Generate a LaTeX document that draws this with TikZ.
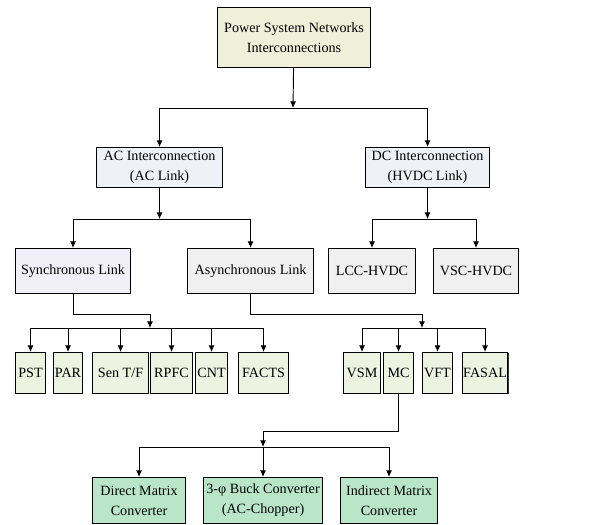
\documentclass[tikz,border=0pt]{standalone}
\usepackage{fontspec}
\setmainfont{Liberation Serif}
\usepackage{tikz}
\usetikzlibrary{shapes, arrows.meta, positioning, calc, shadows}

\definecolor{topfill}{HTML}{EEF0DA}
\definecolor{linkfill}{HTML}{EEF1F6}
\definecolor{synfill}{HTML}{F1EFF7}
\definecolor{grayfill}{HTML}{F0F0F0}
\definecolor{devfill}{HTML}{EEF2E0}
\definecolor{convfill}{HTML}{B9E6C9}

\newdimen\unitpx
\unitpx=0.75pt

\tikzset{
	blk/.style={draw, line width=0.8pt, anchor=north west, align=center, inner xsep=0.5pt, inner ysep=1pt,
		drop shadow={shadow xshift=0.7pt, shadow yshift=-0.7pt, fill=black!80, opacity=1},
		font=\fontsize{10.6}{15}\selectfont},
	wire/.style={->, line width=0.7pt}
}

\begin{document}
\begin{tikzpicture}[x=0.75pt, y=-0.75pt, >={Latex[length=5pt, width=4.5pt]}]
		\useasboundingbox (0,0) rectangle (615,525);

		\coordinate (psn)   at (217, 7);
		\coordinate (aci)   at (96, 147);
		\coordinate (dci)   at (365, 147);
		\coordinate (syn)   at (15, 248);
		\coordinate (asy)   at (187, 248);
		\coordinate (lcc)   at (328, 248);
		\coordinate (vsc)   at (433, 248);

		\node[blk, fill=topfill, minimum width=153\unitpx, minimum height=60\unitpx] (PSN) at (psn) {Power System Networks\\Interconnections};
		\node[blk, fill=linkfill, minimum width=126\unitpx, minimum height=40\unitpx] (ACI) at (aci) {AC Interconnection\\(AC Link)};
		\node[blk, fill=linkfill, minimum width=124\unitpx, minimum height=40\unitpx] (DCI) at (dci) {DC Interconnection\\(HVDC Link)};
		\node[blk, fill=synfill, minimum width=115\unitpx, minimum height=45\unitpx] (SYN) at (syn) {Synchronous Link};
		\node[blk, fill=grayfill, minimum width=126\unitpx, minimum height=45\unitpx] (ASY) at (asy) {Asynchronous Link};
		\node[blk, fill=grayfill, minimum width=87\unitpx, minimum height=45\unitpx] (LCC) at (lcc) {LCC-HVDC};
		\node[blk, fill=grayfill, minimum width=85\unitpx, minimum height=45\unitpx] (VSC) at (vsc) {VSC-HVDC};

		% synchronous devices
		\node[blk, fill=devfill, minimum width=30\unitpx, minimum height=41\unitpx] (PST) at (15, 352) {PST};
		\node[blk, fill=devfill, minimum width=29\unitpx, minimum height=41\unitpx] (PAR) at (53, 352) {PAR};
		\node[blk, fill=devfill, minimum width=56\unitpx, minimum height=41\unitpx] (SEN) at (92, 352) {Sen T/F};
		\node[blk, fill=devfill, minimum width=42\unitpx, minimum height=41\unitpx] (RPFC) at (150, 352) {RPFC};
		\node[blk, fill=devfill, minimum width=32\unitpx, minimum height=41\unitpx] (CNT) at (195, 352) {CNT};
		\node[blk, fill=devfill, minimum width=50\unitpx, minimum height=41\unitpx] (FACTS) at (238, 352) {FACTS};

		% asynchronous devices
		\node[blk, fill=devfill, minimum width=37\unitpx, minimum height=41\unitpx] (VSM) at (343, 352) {VSM};
		\node[blk, fill=devfill, minimum width=30\unitpx, minimum height=41\unitpx] (MC) at (383, 352) {MC};
		\node[blk, fill=devfill, minimum width=30\unitpx, minimum height=41\unitpx] (VFT) at (422, 352) {VFT};
		\node[blk, fill=devfill, minimum width=43\unitpx, minimum height=41\unitpx] (FASAL) at (462, 352) {FASAL};

		% matrix converters
		\node[blk, fill=convfill, minimum width=93\unitpx, minimum height=46\unitpx] (DMC) at (92, 477) {Direct Matrix\\Converter};
		\node[blk, fill=convfill, minimum width=119\unitpx, minimum height=46\unitpx] (BUCK) at (203, 477) {3-φ Buck Converter\\(AC-Chopper)};
		\node[blk, fill=convfill, minimum width=97\unitpx, minimum height=46\unitpx] (IMC) at (340, 477) {Indirect Matrix\\Converter};

		\coordinate (j1) at (293, 108);
		\coordinate (j2) at ($(ACI.south)+(0,31)$);
		\coordinate (j3) at ($(DCI.south)+(0,31)$);
		\coordinate (j4) at (150, 328);
		\coordinate (j5) at (422, 328);
		\coordinate (j6) at ($(BUCK.north)+(0,-30)$);

		\draw[wire] (PSN) -- (j1);
		\draw[wire] (j1) -| (ACI);
		\draw[wire] (j1) -| (DCI);
		\draw[wire] (ACI) -- (j2);
		\draw[wire] (j2) -| (SYN);
		\draw[wire] (j2) -| (ASY);
		\draw[wire] (DCI) -- (j3);
		\draw[wire] (j3) -| (LCC);
		\draw[wire] (j3) -| (VSC);

		\draw[wire] (SYN.south) -- ++(0,20) -| (j4);
		\foreach \dev in {PST, PAR, SEN, RPFC, CNT, FACTS}
			\draw[wire] (j4) -| (\dev);

		\draw[wire] (ASY.south) -- ++(0,20) -| (j5);
		\foreach \dev in {VSM, MC, VFT, FASAL}
			\draw[wire] (j5) -| (\dev);

		\draw[wire] (MC.south) -- ++(0,37) -| (j6);
		\foreach \conv in {DMC, BUCK, IMC}
			\draw[wire] (j6) -| (\conv);
	\end{tikzpicture}
\end{document}
